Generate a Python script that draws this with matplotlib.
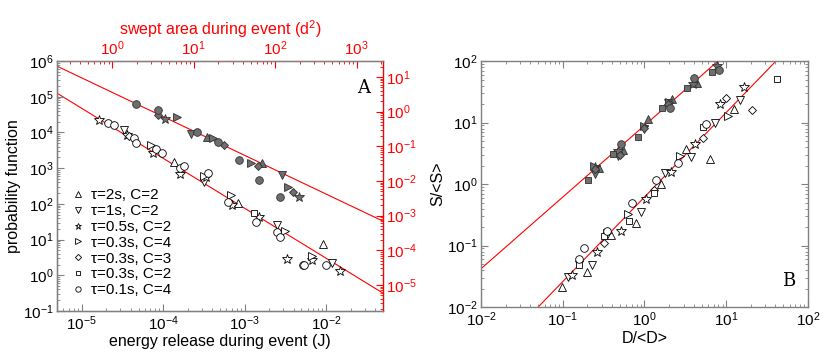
import numpy as np
import matplotlib
matplotlib.use("Agg")
import matplotlib.pyplot as plt
from matplotlib.ticker import LogLocator, NullFormatter

plt.rcParams['font.family'] = ['Liberation Sans', 'DejaVu Sans']
plt.rcParams['mathtext.fontset'] = 'custom'
plt.rcParams['mathtext.rm'] = 'Liberation Sans'

# ---------------- data ----------------
labels = ["τ=2s, C=2", "τ=1s, C=2", "τ=0.5s, C=2", "τ=0.3s, C=4",
          "τ=0.3s, C=3", "τ=0.3s, C=2", "τ=0.1s, C=4"]
markers = ["^", "v", "*", ">", "D", "s", "o"]

# Panel A, filled (swept area, top/right axes) : x = energy (J), y = probability
A_fill_x = [[3.5e-4, 1.66e-3], [2.2e-4, 2.9e-3], [1.07e-4, 4.6e-3],
            [1.5e-4, 4.1e-4, 1.2e-3, 3.4e-3], [8.6e-5, 5.6e-4, 1.45e-3, 3.9e-3], [],
            [4.7e-5, 8.6e-5, 2.6e-4, 4.7e-4, 8.5e-4, 1.5e-3, 2.7e-3]]
A_fill_y = [[7.4e3, 1.4e3], [9.1e3, 650], [2.4e4, 155],
            [2.7e4, 7e3, 1.4e3, 295], [3.1e4, 4.5e3, 1.15e3, 214], [],
            [6.3e4, 4.3e4, 1.0e4, 5.4e3, 1.7e3, 480, 155]]
# Panel A, open (energy)
A_open_x = [[1.35e-4, 8.4e-4, 9.3e-3], [3.3e-5, 3.2e-4, 2.5e-3, 1.17e-2],
            [1.66e-5, 3.6e-5, 7.6e-5, 1.6e-4, 3.4e-4, 7e-4, 1.5e-3, 3.3e-3, 6.8e-3, 1.48e-2],
            [7.1e-5, 3.2e-4, 6.9e-4, 3.1e-3, 6.8e-3], [3.8e-5, 1.7e-4], [1.3e-3],
            [2.1e-5, 2.5e-5, 4.35e-5, 4.7e-5, 8.1e-5, 9.6e-5, 1.6e-4, 1.8e-4, 3.6e-4,
             6.3e-4, 1.4e-3, 2.5e-3, 2.7e-3, 5.2e-3, 5.4e-3, 1e-2]]
A_open_y = [[1.5e3, 105, 7.4], [1.2e4, 410, 26, 2.2],
            [2.2e4, 8.5e3, 2.6e3, 680, 550, 93, 43, 2.8, 2.7, 1.3],
            [4.5e3, 600, 178, 17, 3.5], [8e3, 1.1e3], [55],
            [1.8e4, 1.6e4, 6.9e3, 5e3, 3.5e3, 2.6e3, 1e3, 1.15e3, 730,
             112, 31, 16, 11.7, 1.95, 1.95, 1.95]]

# Panel B, filled
B_fill_x = [[0.28, 0.54, 1.1, 2.15, 4.4], [0.25, 0.47, 1.0, 1.95], [0.25, 0.47, 3.9, 7.7],
            [0.24, 1.0, 2.0], [0.25, 0.5, 1.0, 1.95], [0.204, 0.41, 0.83, 1.63, 3.3, 6.7],
            [0.51, 2.04, 4.0, 8.2]]
B_fill_y = [[1.8, 3.6, 11.5, 24, 44], [1.45, 2.9, 8.0, 21], [1.9, 3.5, 42, 83],
            [2.0, 8.8, 22], [1.74, 3.0, 8.2, 20], [1.16, 3.1, 5.8, 17, 36, 66],
            [4.5, 17, 53, 71]]
# Panel B, open
B_open_x = [[0.098, 0.2, 0.39, 0.78, 1.6, 3.2, 6.3, 12.6],
            [0.115, 0.23, 0.91, 1.8, 3.7, 7.2, 14.8],
            [0.13, 0.26, 0.51, 1.05, 2.1, 4.1, 8.3, 16.6],
            [0.35, 0.63, 2.7, 10.5],
            [0.16, 0.32, 1.32, 5.2, 10, 20.5],
            [0.16, 0.32, 0.64, 1.32, 5.2, 42],
            [0.16, 0.18, 0.35, 0.70, 1.38, 2.6, 5.6]]
B_open_y = [[0.021, 0.037, 0.15, 0.23, 1.0, 3.7, 2.6, 16.5],
            [0.031, 0.048, 0.35, 1.5, 2.75, 9.8, 23],
            [0.033, 0.08, 0.17, 0.57, 1.6, 4.5, 20, 38],
            [0.16, 0.33, 2.9, 12.8],
            [0.057, 0.11, 0.8, 5.6, 25, 16],
            [0.048, 0.145, 0.25, 0.71, 8.5, 51],
            [0.06, 0.091, 0.17, 0.49, 1.16, 2.2, 9.5]]

# power-law fit lines: (prefactor at x0, x0, exponent)
A_fit_upper = (7.2e5, 5e-6, -1.085)
A_fit_lower = (1.26e5, 5e-6, -1.40)
B_fit_upper = (0.042, 0.01, 1.165)
B_fit_lower = (0.01, 0.05, 1.375)

# ---------------- figure ----------------
fig = plt.figure(figsize=(8.3, 3.55), dpi=100)
axA = fig.add_axes([0.0687, 0.124, 0.3927, 0.704])
axB = fig.add_axes([0.5795, 0.135, 0.394, 0.693])

spine_col = "#808080"
fill_col = "#6e6e6e"
msizes = {"^": 5.5, "v": 5.5, "*": 7, ">": 5.5, "D": 4.5, "s": 5, "o": 5.5}

def style(ax, sides=("bottom", "left", "top", "right")):
    ax.set_xscale("log"); ax.set_yscale("log")
    for s in ax.spines.values():
        s.set_color(spine_col); s.set_linewidth(1.0)
    ax.tick_params(which="both", direction="in", color=spine_col,
                   top="top" in sides, right="right" in sides, labelsize=11, pad=2.5)
    ax.tick_params(which="major", length=5)
    ax.tick_params(which="minor", length=2.5)
    ax.xaxis.set_minor_locator(LogLocator(base=10, subs=np.arange(2, 10)))
    ax.yaxis.set_minor_locator(LogLocator(base=10, subs=np.arange(2, 10)))
    ax.xaxis.set_minor_formatter(NullFormatter())
    ax.yaxis.set_minor_formatter(NullFormatter())

# Panel A
style(axA, sides=("bottom", "left"))
axA.set_xlim(5e-6, 5e-2)
axA.set_ylim(1e-1, 1e6)
xx = np.logspace(np.log10(5e-6), np.log10(5e-2), 50)
for (c, x0, k) in (A_fit_upper, A_fit_lower):
    axA.plot(xx, c * (xx / x0) ** k, color="red", lw=0.8, zorder=1)
for i in range(7):
    m = markers[i]
    axA.plot(A_fill_x[i], A_fill_y[i], ls="none", marker=m, ms=msizes[m],
             mfc=fill_col, mec="#303030", mew=0.6, zorder=3)
    axA.plot(A_open_x[i], A_open_y[i], ls="none", marker=m, ms=msizes[m],
             mfc="white", mec="black", mew=0.6, label=labels[i], zorder=3)
axA.set_xlabel("energy release during event (J)", fontsize=11.5, labelpad=1)
axA.set_ylabel("probability function", fontsize=11.5, labelpad=1)
axA.text(0.96, 0.93, "A", transform=axA.transAxes, ha="right", va="top",
         fontsize=13, family="DejaVu Serif")
leg = axA.legend(loc="lower left", frameon=False, fontsize=11, handletextpad=0.35,
                 labelspacing=0.12, borderaxespad=0.5, handlelength=1.0,
                 bbox_to_anchor=(0.0, 0.0), markerscale=0.7)

# top axis (swept area)
axT = axA.twiny()
axT.set_xscale("log")
axT.set_xlim(0.21, 2100)
axT.tick_params(axis="x", which="both", direction="in", colors="red", labelsize=11, pad=2.5)
axT.tick_params(which="major", length=5); axT.tick_params(which="minor", length=2.5)
axT.xaxis.set_minor_locator(LogLocator(base=10, subs=np.arange(2, 10)))
axT.xaxis.set_minor_formatter(NullFormatter())
axT.set_xlabel("swept area during event (d$^2$)", color="red", fontsize=11.5, labelpad=3)
axT.yaxis.set_visible(False)
# right axis
axR = axA.twinx()
axR.set_yscale("log")
axR.set_ylim(10 ** -5.75, 10 ** 1.46)
axR.tick_params(axis="y", which="both", direction="in", colors="red", labelsize=11, pad=2.5)
axR.tick_params(which="major", length=5); axR.tick_params(which="minor", length=2.5)
axR.yaxis.set_minor_locator(LogLocator(base=10, subs=np.arange(2, 10)))
axR.yaxis.set_minor_formatter(NullFormatter())
axR.xaxis.set_visible(False)
for ax2 in (axT, axR):
    for s in ax2.spines.values():
        s.set_color(spine_col)
axT.spines["top"].set_color("#e07070")
axR.spines["right"].set_color("red")

# Panel B
style(axB)
axB.set_xlim(1e-2, 1e2)
axB.set_ylim(1e-2, 1e2)
xb = np.logspace(-2, 2, 50)
for (c, x0, k) in (B_fit_upper, B_fit_lower):
    axB.plot(xb, c * (xb / x0) ** k, color="red", lw=0.8, zorder=1)
for i in range(7):
    m = markers[i]
    axB.plot(B_fill_x[i], B_fill_y[i], ls="none", marker=m, ms=msizes[m],
             mfc=fill_col, mec="#303030", mew=0.6, zorder=3)
    axB.plot(B_open_x[i], B_open_y[i], ls="none", marker=m, ms=msizes[m],
             mfc="white", mec="black", mew=0.6, zorder=3)
axB.set_xlabel("D/<D>", fontsize=11.5, labelpad=1)
axB.set_ylabel("S/<S>", fontsize=11.5, labelpad=1)
axB.text(0.96, 0.07, "B", transform=axB.transAxes, ha="right", va="bottom",
         fontsize=13, family="DejaVu Serif")

fig.savefig("out.png", dpi=100)
